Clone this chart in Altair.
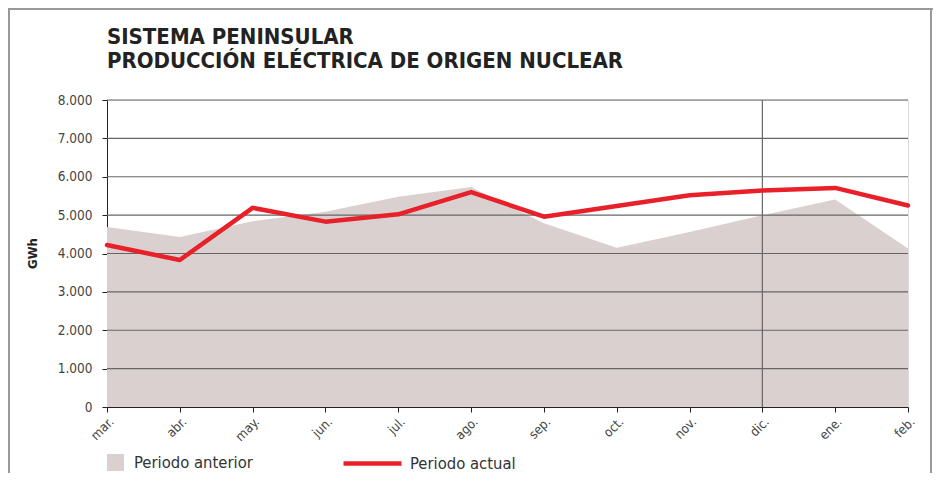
import altair as alt
import pandas as pd

meses = ["mar.", "abr.", "may.", "jun.", "jul.", "ago.", "sep.", "oct.", "nov.", "dic.", "ene.", "feb."]
anterior = [4690, 4430, 4840, 5090, 5480, 5730, 4790, 4150, 4560, 5000, 5410, 4130]
actual = [4220, 3830, 5190, 4830, 5020, 5600, 4960, 5240, 5520, 5640, 5710, 5250]
ticks_y = [0, 1000, 2000, 3000, 4000, 5000, 6000, 7000, 8000]
mes_marcado = ["dic."]
titulo = ["SISTEMA PENINSULAR", "PRODUCCIÓN ELÉCTRICA DE ORIGEN NUCLEAR"]

df_ant = pd.DataFrame({"mes": meses, "valor": anterior, "serie": "Periodo anterior"})
df_act = pd.DataFrame({"mes": meses, "valor": actual, "serie": "Periodo actual"})
df_grid = pd.DataFrame({"valor": ticks_y[1:]})
df_vline = pd.DataFrame({"mes": mes_marcado})
df_one = pd.DataFrame({"k": [0]})

FONT = "DejaVu Sans Condensed, Roboto, sans-serif"
GRAY_FILL = "#d9d0cf"
RED = "#e8202a"

x_enc = alt.X(
    "mes:N", sort=meses,
    scale=alt.Scale(type="point", padding=0),
    axis=alt.Axis(title=None, labelAngle=-45, labelAlign="right", labelBaseline="top",
                  labelFontSize=13, labelColor="#444", labelFont=FONT, tickSize=5,
                  tickColor="#222", domainColor="#222", labelPadding=3, grid=False),
)
y_enc = alt.Y(
    "valor:Q",
    scale=alt.Scale(domain=[0, 8000], nice=False),
    axis=alt.Axis(title="GWh", values=ticks_y,
                  labelExpr="replace(format(datum.value, ','), ',', '.')",
                  labelFontSize=13.5, labelColor="#444", labelFont=FONT, labelPadding=10,
                  tickSize=5, tickColor="#222", domainColor="#222", grid=False,
                  titleFont=FONT, titleFontSize=13, titleFontWeight="bold", titleColor="#222",
                  titleX=-75, titleY=153, titleAngle=270, titleAlign="center",
                  titleBaseline="middle"),
)

area = alt.Chart(df_ant).mark_area(opacity=1).encode(
    x=x_enc, y=y_enc,
    color=alt.Color("serie:N", scale=alt.Scale(domain=["Periodo anterior"], range=[GRAY_FILL]),
                    legend=alt.Legend(orient="none", legendX=0, legendY=354, title=None,
                                      symbolType="square", symbolSize=289, symbolStrokeWidth=0,
                                      symbolOpacity=1,
                                      labelFontSize=16.5, labelFont=FONT, labelColor="#333",
                                      labelOffset=10)),
)

grid = alt.Chart(df_grid).mark_rule(color="#666", strokeWidth=1.2).encode(y=y_enc)

vline = alt.Chart(df_vline).mark_rule(color="#666", strokeWidth=1.2).encode(x=x_enc)

line = alt.Chart(df_act).mark_line(strokeWidth=4.5, strokeCap="round", strokeJoin="round").encode(
    x=x_enc, y=y_enc,
    stroke=alt.Stroke("serie:N", scale=alt.Scale(domain=["Periodo actual"], range=[RED]),
                      legend=alt.Legend(orient="none", legendX=234, legendY=332, title=None,
                                        symbolType="stroke", symbolSize=3364,
                                        symbolStrokeWidth=4.5,
                                        labelFontSize=16.5, labelFont=FONT, labelColor="#333",
                                        labelOffset=6)),
)

frame_left = alt.Chart(df_one).mark_rule(color="#999", strokeWidth=2).encode(
    x=alt.value(-98), y=alt.value(-91), y2=alt.value(500))
frame_top = alt.Chart(df_one).mark_rule(color="#999", strokeWidth=2).encode(
    x=alt.value(-99), x2=alt.value(830), y=alt.value(-91))
frame_right = alt.Chart(df_one).mark_rule(color="#999", strokeWidth=2).encode(
    x=alt.value(824), y=alt.value(-91), y2=alt.value(500))

chart = alt.layer(area, grid, vline, line, frame_left, frame_top, frame_right).properties(
    width=801, height=307,
    title=alt.Title(titulo, anchor="start", frame="group", font=FONT, fontSize=22,
                    fontWeight="bold", color="#222", offset=0, dy=65, lineHeight=24),
    autosize=alt.AutoSizeParams(type="none"),
    padding={"left": 99, "top": 92, "right": 25, "bottom": 66},
).resolve_scale(color="independent", stroke="independent").configure_view(
    stroke="#222", strokeWidth=1
).configure(background="white")

chart.save("out.html", embed_options={"renderer": "svg", "actions": False})
